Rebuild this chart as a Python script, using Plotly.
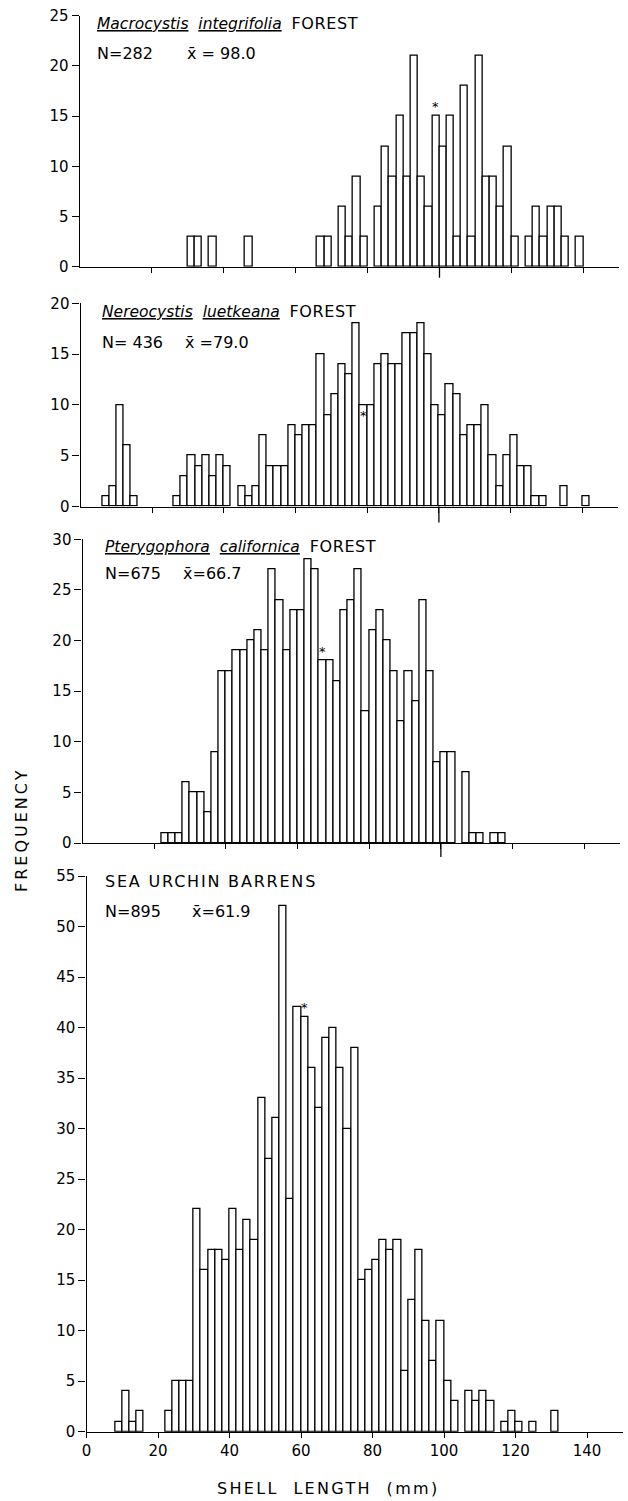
import plotly.graph_objects as go

W, H = 628, 1501
FONT = "DejaVu Sans"

# ---------------- data: left edge of 2-mm bins (mm) and frequencies ----------------
BIN_WIDTH = 2

macro_edges = [30, 32, 36, 46, 66, 68, 72, 74, 76, 78, 82, 84, 86, 88, 90, 92, 94, 96, 98,
               100, 102, 104, 106, 108, 110, 112, 114, 116, 118, 120, 124, 126, 128, 130,
               132, 134, 138]
macro_counts = [3, 3, 3, 3, 3, 3, 6, 3, 9, 3, 6, 12, 9, 15, 9, 21, 9, 6, 15,
                12, 15, 3, 18, 3, 21, 9, 9, 6, 12, 3, 3, 6, 3, 6,
                6, 3, 3]

nereo_edges = [6, 8, 10, 12, 14, 26, 28, 30, 32, 34, 36, 38, 40, 44, 46, 48,
               50, 52, 54, 56, 58, 60, 62, 64, 66, 68, 70, 72, 74, 76, 78, 80, 82, 84,
               86, 88, 90, 92, 94, 96, 98, 100, 102, 104, 106, 108, 110, 112, 114, 116,
               118, 120, 122, 124, 126, 128, 134, 140]
nereo_counts = [1, 2, 10, 6, 1, 1, 3, 5, 4, 5, 3, 5, 4, 2, 1, 2,
                7, 4, 4, 4, 8, 7, 8, 8, 15, 9, 11, 14, 13, 18, 10, 10, 14, 15,
                14, 14, 17, 17, 18, 15, 10, 9, 12, 11, 7, 8, 8, 10, 5, 2,
                5, 7, 4, 4, 1, 1, 2, 1]

ptery_edges = [22, 24, 26, 28, 30, 32, 34, 36, 38, 40, 42, 44, 46, 48, 50, 52, 54, 56,
               58, 60, 62, 64, 66, 68, 70, 72, 74, 76, 78, 80, 82, 84, 86, 88, 90, 92,
               94, 96, 98, 100, 102, 106, 108, 110, 114, 116]
ptery_counts = [1, 1, 1, 6, 5, 5, 3, 9, 17, 17, 19, 19, 20, 21, 19, 27, 24, 19,
                23, 23, 28, 27, 18, 18, 16, 23, 24, 27, 13, 21, 23, 20, 17, 12, 17, 14,
                24, 17, 8, 9, 9, 7, 1, 1, 1, 1]

barren_edges = [8, 10, 12, 14, 22, 24, 26, 28, 30, 32, 34, 36, 38, 40, 42, 44, 46, 48,
                50, 52, 54, 56, 58, 60, 62, 64, 66, 68, 70, 72, 74, 76, 78, 80, 82, 84,
                86, 88, 90, 92, 94, 96, 98, 100, 102, 106, 108, 110, 112, 116, 118, 120,
                124, 130]
barren_counts = [1, 4, 1, 2, 2, 5, 5, 5, 22, 16, 18, 18, 17, 22, 18, 21, 19, 33,
                 27, 31, 52, 23, 42, 41, 36, 32, 39, 40, 36, 30, 38, 15, 16, 17, 19, 18,
                 19, 6, 13, 18, 11, 7, 11, 5, 3, 4, 3, 4, 3, 1, 2, 1,
                 1, 2]

titles_species = [("Macrocystis", "integrifolia"), ("Nereocystis", "luetkeana"),
                  ("Pterygophora", "californica"), None]
title_suffix = ["FOREST", "FOREST", "FOREST", "SEA URCHIN BARRENS"]
n_labels = ["N=282", "N= 436", "N=675", "N=895"]
mean_labels = ["x\u0304 = 98.0", "x\u0304 =79.0", "x\u0304=66.7", "x\u0304=61.9"]
mean_bins = [98, 78, 66, 60]   # bin (left edge) marked with an asterisk
y_max = [25, 20, 30, 55]
x_ticks = [0, 20, 40, 60, 80, 100, 120, 140]

panels = [(macro_edges, macro_counts), (nereo_edges, nereo_counts),
          (ptery_edges, ptery_counts), (barren_edges, barren_counts)]

# ---------------- layout geometry (pixels) ----------------
geom = [
    dict(x0=79.8, s=3.597, ytop=15.7, ybot=266.7),
    dict(x0=80.6, s=3.583, ytop=303.3, ybot=506.5),
    dict(x0=82.6, s=3.583, ytop=539.3, ybot=843.0),
    dict(x0=86.5, s=3.575, ytop=876.0, ybot=1431.7),
]
text_pos = [  # title x, title y, N-line y, mean-label x, long tick length
    (95, 23, 53, 185, 11),
    (100, 311, 342, 183, 16),
    (103, 546, 574, 181, 14),
    (103, 881, 911, 190, 0),
]
XMAX = 150

fig = go.Figure()
layout = dict(width=W, height=H, margin=dict(l=0, r=0, t=0, b=0),
              paper_bgcolor="white", plot_bgcolor="white", showlegend=False,
              font=dict(family=FONT, color="black"), bargap=0)
annotations = []
shapes = []

for i, ((edges, counts), g) in enumerate(zip(panels, geom)):
    k = "" if i == 0 else str(i + 1)
    xa, ya = "x" + k, "y" + k
    fig.add_trace(go.Bar(x=edges, y=counts, width=BIN_WIDTH, offset=0,
                         marker=dict(color="white", line=dict(color="black", width=1.3)),
                         xaxis=xa, yaxis=ya, hoverinfo="x+y"))
    x1 = g["x0"] + XMAX * g["s"]
    bottom = i == 3
    layout["xaxis" + k] = dict(
        domain=[g["x0"] / W, x1 / W], anchor=ya, range=[0, XMAX],
        showline=True, linecolor="black", linewidth=1.3, mirror=False,
        ticks="outside", ticklen=5, tickwidth=1.2, tickcolor="black",
        tickvals=(x_ticks if bottom else x_ticks[1:]),
        showticklabels=bottom, tickfont=dict(size=15, family=FONT),
        showgrid=False, zeroline=False, fixedrange=True, automargin=False)
    layout["yaxis" + k] = dict(
        domain=[1 - g["ybot"] / H, 1 - g["ytop"] / H], anchor=xa,
        range=[0, y_max[i]], dtick=5, tick0=0,
        showline=True, linecolor="black", linewidth=1.3,
        ticks="outside", ticklen=7, tickwidth=1.2, tickcolor="black",
        tickfont=dict(size=15, family=FONT),
        showgrid=False, zeroline=False, fixedrange=True, automargin=False)

    tx, ty, ny, mx, ltick = text_pos[i]
    sp = titles_species[i]
    if sp:
        ttl = (f"<u><i>{sp[0]}</i></u>  <u><i>{sp[1]}</i></u>  "
               f"<span style='font-size:16px;letter-spacing:0.6px'>{title_suffix[i]}</span>")
    else:
        ttl = f"<span style='letter-spacing:1.8px'>{title_suffix[i]}</span>"
    annotations.append(dict(text=ttl, x=tx / W, y=1 - ty / H, xref="paper", yref="paper",
                            xanchor="left", yanchor="middle", showarrow=False,
                            font=dict(size=15.5 if sp else 16, family=FONT)))
    annotations.append(dict(text=n_labels[i], x=tx / W, y=1 - ny / H, xref="paper",
                            yref="paper", xanchor="left", yanchor="middle",
                            showarrow=False, font=dict(size=16, family=FONT)))
    annotations.append(dict(text=mean_labels[i], x=mx / W, y=1 - ny / H, xref="paper",
                            yref="paper", xanchor="left", yanchor="middle",
                            showarrow=False, font=dict(size=16, family=FONT)))
    j = edges.index(mean_bins[i])
    annotations.append(dict(text="*", x=edges[j] + BIN_WIDTH / 2, y=counts[j],
                            xref=xa, yref=ya, xanchor="center",
                            yanchor=("top" if i == 1 else "bottom"),
                            yshift=(-1 if i == 1 else 0),
                            showarrow=False, font=dict(size=13, family=FONT)))
    if ltick:
        shapes.append(dict(type="line", xref=xa, yref="paper", x0=100, x1=100,
                           y0=1 - g["ybot"] / H, y1=1 - (g["ybot"] + ltick) / H,
                           line=dict(color="black", width=1.3)))

annotations.append(dict(text="<span style='letter-spacing:3px'>FREQUENCY</span>",
                        x=22 / W, y=1 - 830 / H, xref="paper", yref="paper",
                        textangle=-90, showarrow=False, xanchor="center", yanchor="middle",
                        font=dict(size=16, family=FONT)))
annotations.append(dict(text="<span style='letter-spacing:2.3px'>SHELL  LENGTH  (mm)</span>",
                        x=328 / W, y=1 - 1488 / H, xref="paper", yref="paper",
                        showarrow=False, xanchor="center", yanchor="middle",
                        font=dict(size=16, family=FONT)))

layout["annotations"] = annotations
layout["shapes"] = shapes
fig.update_layout(**layout)
fig.write_html("out.html")
